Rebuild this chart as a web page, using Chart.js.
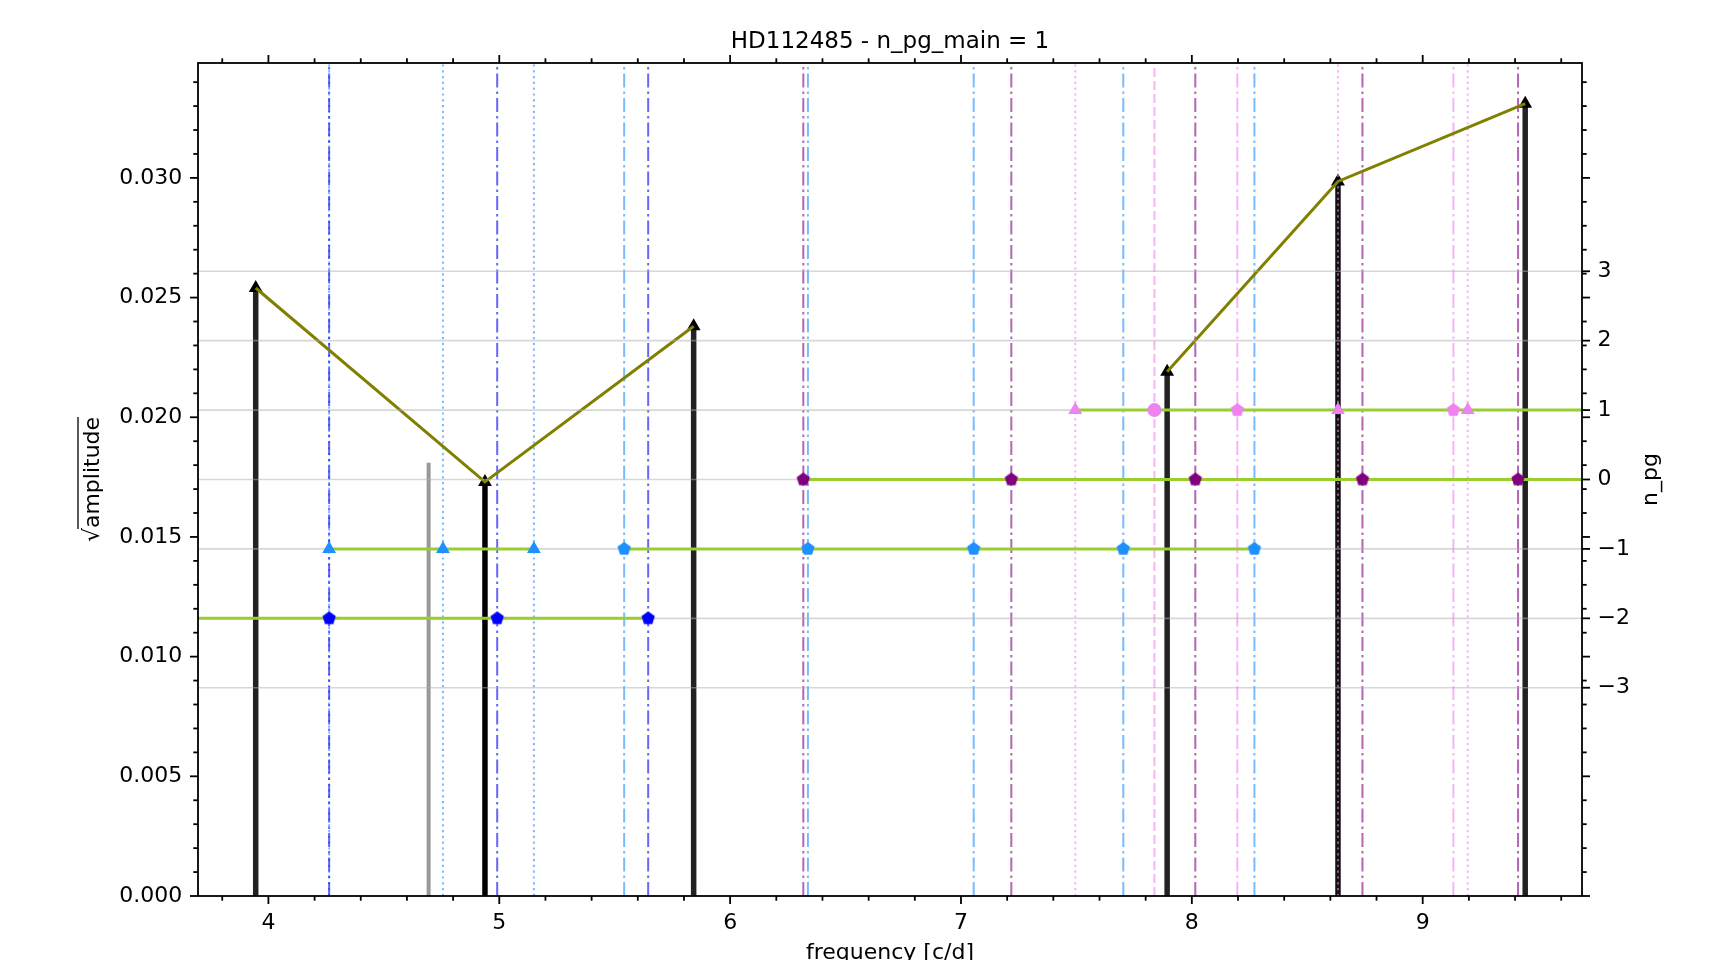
<!DOCTYPE html>
<html>
<head>
<meta charset="utf-8">
<title>HD112485 - n_pg_main = 1</title>
<script src="https://cdn.jsdelivr.net/npm/chart.js@4"></script>
<style>
  html, body { margin: 0; padding: 0; background: #fff; }
  #wrap { width: 1733px; height: 960px; position: relative; }
</style>
</head>
<body>
<div id="wrap"><canvas id="periodChart"></canvas></div>
<script>
const TITLE = 'HD112485 - n_pg_main = 1';

// axis limits and tick values
const X_MIN = 3.695, X_MAX = 9.69;
const Y_MIN = 0, Y_MAX = 0.0348;
const NPG_MIN = -6, NPG_MAX = 6;
const xTicks = [4, 5, 6, 7, 8, 9];
const yTicks = [0, 0.005, 0.010, 0.015, 0.020, 0.025, 0.030];
const npgTicks = [-3, -2, -1, 0, 1, 2, 3];
const X_MINOR = 0.2, Y_MINOR = 0.001;

// observed peaks (stems with ^ markers), chained per pattern
const peakFreq = [3.945, 4.938, 5.842, 7.893, 8.633, 9.444];
const peakAmp = [0.0254, 0.0173, 0.0238, 0.0219, 0.02985, 0.0331];
const peakColor = ['#222', '#000', '#222', '#222', '#111', '#222'];
const peakChain = [0, 0, 0, 1, 1, 1];

// peak not used in the pattern
const extraFreq = [4.694];
const extraAmp = [0.0181];

// model frequencies by n_pg and marker
const nm2Pent = [4.263, 4.991, 5.645];
const nm1Tri = [4.263, 4.756, 5.150];
const nm1Pent = [5.541, 6.337, 7.055, 7.703, 8.271];
const n0Pent = [6.317, 7.218, 8.015, 8.739, 9.413];
const n1Tri = [7.495, 8.633, 9.195];
const n1Circ = [7.838];
const n1Pent = [8.197, 9.133];
const modeN = [-2, -1, -1, 0, 1, 1, 1];

// horizontal n_pg lines
const seriesN = [-2, -1, -1, 0, 1];
const seriesFrom = [X_MIN, 4.263, 5.541, 6.317, 7.495];
const seriesTo = [5.645, 5.150, 8.271, X_MAX, X_MAX];

const FONT = "'DejaVu Sans', sans-serif";
const MAJOR_LEN = 8, MINOR_LEN = 4.7;
const DASHDOT = [14, 4, 2.5, 4];
const DOTTED = [2.2, 3.6];
const DASHED = [9, 4];

Chart.defaults.font.family = FONT;
Chart.defaults.color = '#000';

function pentagon(color, r) {
  const c = document.createElement('canvas');
  const s = Math.ceil(2 * r + 2);
  c.width = c.height = s;
  const g = c.getContext('2d');
  g.translate(s / 2, s / 2);
  g.beginPath();
  for (let i = 0; i < 5; i++) {
    const ang = -Math.PI / 2 + i * 2 * Math.PI / 5;
    g.lineTo(r * Math.cos(ang), r * Math.sin(ang));
  }
  g.closePath();
  g.fillStyle = color;
  g.fill();
  return c;
}

const modeStyle = [
  { fill: '#0000ff', line: 'rgba(0,0,255,0.6)', shape: 'pentagon', dash: DASHDOT },
  { fill: '#1e90ff', line: 'rgba(30,144,255,0.6)', shape: 'triangle', dash: DOTTED },
  { fill: '#1e90ff', line: 'rgba(30,144,255,0.6)', shape: 'pentagon', dash: DASHDOT },
  { fill: '#800080', line: 'rgba(128,0,128,0.6)', shape: 'pentagon', dash: DASHDOT },
  { fill: '#ee82ee', line: 'rgba(238,130,238,0.6)', shape: 'triangle', dash: DOTTED },
  { fill: '#ee82ee', line: 'rgba(238,130,238,0.6)', shape: 'circle', dash: DASHED },
  { fill: '#ee82ee', line: 'rgba(238,130,238,0.6)', shape: 'pentagon', dash: DASHDOT },
];
const modeFreq = [nm2Pent, nm1Tri, nm1Pent, n0Pent, n1Tri, n1Circ, n1Pent];

const datasets = [];

// stems
peakFreq.forEach((f, i) => datasets.push({
  data: [{ x: f, y: 0 }, { x: f, y: peakAmp[i] }],
  yAxisID: 'y', showLine: true, borderColor: peakColor[i], borderWidth: 5.5,
  pointRadius: 0, order: 60
}));
datasets.push({
  data: peakFreq.map((f, i) => ({ x: f, y: peakAmp[i] })),
  yAxisID: 'y', showLine: false, pointStyle: 'triangle', pointRadius: 8,
  pointBackgroundColor: '#000', pointBorderWidth: 0, order: 58
});
extraFreq.forEach((f, i) => datasets.push({
  data: [{ x: f, y: 0 }, { x: f, y: extraAmp[i] }],
  yAxisID: 'y', showLine: true, borderColor: '#999', borderWidth: 4,
  pointRadius: 0, order: 55
}));

// vertical model lines
modeFreq.forEach((list, m) => list.forEach(f => datasets.push({
  data: [{ x: f, y: Y_MIN }, { x: f, y: Y_MAX }],
  yAxisID: 'y', showLine: true, borderColor: modeStyle[m].line, borderWidth: 2,
  borderDash: modeStyle[m].dash, pointRadius: 0, order: 50
})));

// olive chains through peak tops
[...new Set(peakChain)].forEach(c => datasets.push({
  data: peakFreq.map((f, i) => ({ x: f, y: peakAmp[i] })).filter((p, i) => peakChain[i] === c),
  yAxisID: 'y', showLine: true, borderColor: '#808000', borderWidth: 3,
  pointRadius: 0, order: 40
}));

// grid of the n_pg axis goes here
datasets.push({ data: [], gridLayer: true, order: 30 });

// green n_pg lines
seriesN.forEach((n, i) => datasets.push({
  data: [{ x: seriesFrom[i], y: n }, { x: seriesTo[i], y: n }],
  yAxisID: 'y2', showLine: true, borderColor: '#9acd32', borderWidth: 3,
  pointRadius: 0, order: 20
}));

// model markers
modeFreq.forEach((list, m) => {
  const st = modeStyle[m];
  const shape = st.shape === 'pentagon' ? pentagon(st.fill, 7) : st.shape;
  datasets.push({
    data: list.map(f => ({ x: f, y: modeN[m] })),
    yAxisID: 'y2', showLine: false, pointStyle: shape,
    pointRadius: st.shape === 'triangle' ? 8 : 7,
    pointBackgroundColor: st.fill, pointBorderWidth: 0, order: 10
  });
});

const axisDecor = {
  id: 'axisDecor',
  afterDatasetDraw(chart, args) {
    if (!chart.data.datasets[args.index].gridLayer) return;
    const { ctx, chartArea: a, scales: { y2 } } = chart;
    ctx.save();
    ctx.strokeStyle = 'rgba(176,176,176,0.5)';
    ctx.lineWidth = 1.6;
    npgTicks.forEach(v => {
      const py = y2.getPixelForValue(v);
      ctx.beginPath(); ctx.moveTo(a.left, py); ctx.lineTo(a.right, py); ctx.stroke();
    });
    ctx.restore();
  },
  afterDraw(chart) {
    const { ctx, chartArea: a, scales: { x, y, y2 } } = chart;
    const seg = (x1, y1, x2, y3) => { ctx.beginPath(); ctx.moveTo(x1, y1); ctx.lineTo(x2, y3); ctx.stroke(); };
    ctx.save();
    ctx.strokeStyle = '#000';
    ctx.lineWidth = 1.8;
    for (let k = Math.ceil(X_MIN / X_MINOR - 1e-9); k * X_MINOR <= X_MAX + 1e-9; k++) {
      const v = k * X_MINOR;
      const len = xTicks.some(t => Math.abs(t - v) < 1e-6) ? MAJOR_LEN : MINOR_LEN;
      const px = x.getPixelForValue(v);
      seg(px, a.bottom, px, a.bottom + len);
      seg(px, a.top, px, a.top - len);
    }
    for (let k = 0; k * Y_MINOR <= Y_MAX + 1e-12; k++) {
      const v = k * Y_MINOR;
      const len = yTicks.some(t => Math.abs(t - v) < 1e-9) ? MAJOR_LEN : MINOR_LEN;
      const py = y.getPixelForValue(v);
      seg(a.left, py, a.left - len, py);
      seg(a.right, py, a.right + len, py);
    }
    npgTicks.forEach(v => {
      const py = y2.getPixelForValue(v);
      seg(a.right, py, a.right + MAJOR_LEN, py);
    });
    ctx.strokeRect(a.left, a.top, a.right - a.left, a.bottom - a.top);

    // axis labels
    const midY = (a.top + a.bottom) / 2;
    ctx.fillStyle = '#000';
    ctx.font = '22px ' + FONT;
    ctx.textBaseline = 'alphabetic';

    ctx.save();
    ctx.translate(a.left - 99, midY);
    ctx.rotate(-Math.PI / 2);
    const wR = ctx.measureText('\u221a').width;
    const wA = ctx.measureText('amplitude').width;
    const x0 = -(wR + wA) / 2;
    ctx.textAlign = 'left';
    ctx.fillText('\u221a', x0, 0);
    ctx.fillText('amplitude', x0 + wR, 0);
    ctx.lineWidth = 1.3;
    seg(x0 + wR - 1, -21, x0 + wR + wA, -21);
    ctx.restore();

    ctx.save();
    ctx.translate(a.right + 75, midY);
    ctx.rotate(-Math.PI / 2);
    ctx.textAlign = 'center';
    ctx.fillText('n_pg', 0, 0);
    ctx.restore();

    ctx.restore();
  }
};

new Chart(document.getElementById('periodChart'), {
  type: 'scatter',
  data: { datasets: datasets },
  options: {
    responsive: true,
    maintainAspectRatio: false,
    animation: false,
    events: [],
    devicePixelRatio: 1,
    layout: { padding: 0, autoPadding: false },
    plugins: {
      legend: { display: false },
      tooltip: { enabled: false },
      title: {
        display: true, text: TITLE, fullSize: false, color: '#000',
        font: { size: 23, weight: 'normal' },
        padding: { top: 28.2, bottom: 7.2 }
      }
    },
    scales: {
      x: {
        type: 'linear', position: 'bottom', min: X_MIN, max: X_MAX,
        afterBuildTicks: s => { s.ticks = xTicks.map(v => ({ value: v })); },
        afterFit: s => { s.height = 64; },
        grid: { display: false, drawTicks: false },
        border: { display: false },
        ticks: { padding: 14.2, font: { size: 22 }, color: '#000', maxRotation: 0, autoSkip: false,
                 callback: v => String(v) },
        title: { display: true, text: 'frequency [c/d]', color: '#000', font: { size: 22 },
                 padding: { top: 0, bottom: -6.9 } }
      },
      y: {
        type: 'linear', position: 'left', min: Y_MIN, max: Y_MAX,
        afterBuildTicks: s => { s.ticks = yTicks.map(v => ({ value: v })); },
        afterFit: s => { s.width = 198; },
        grid: { display: false, drawTicks: false },
        border: { display: false },
        ticks: { padding: 15.8, font: { size: 22 }, color: '#000', autoSkip: false,
                 callback: v => v.toFixed(3) }
      },
      y2: {
        type: 'linear', position: 'right', min: NPG_MIN, max: NPG_MAX,
        afterBuildTicks: s => { s.ticks = npgTicks.map(v => ({ value: v })); },
        afterFit: s => { s.width = 151; },
        grid: { display: false, drawTicks: false },
        border: { display: false },
        ticks: { padding: 15.6, font: { size: 22 }, color: '#000', autoSkip: false,
                 callback: v => (v < 0 ? '\u2212' + Math.abs(v) : String(v)) }
      }
    }
  },
  plugins: [axisDecor]
});
</script>
</body>
</html>
